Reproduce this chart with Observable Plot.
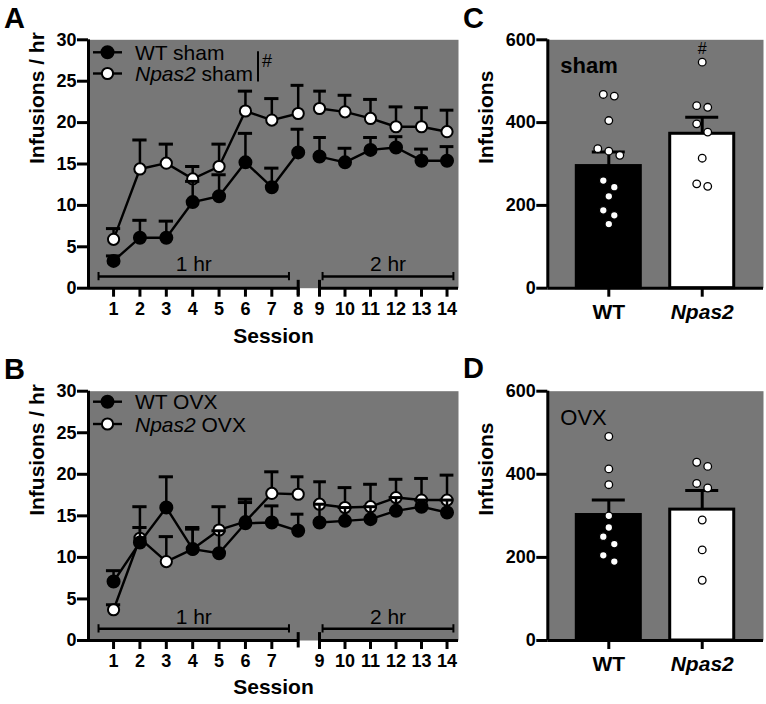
<!DOCTYPE html>
<html><head><meta charset="utf-8">
<script src="https://cdn.jsdelivr.net/npm/d3@7"></script>
<script src="https://cdn.jsdelivr.net/npm/@observablehq/plot@0.6"></script>
<style>
body{margin:0;background:#fff;}
#root{position:relative;width:766px;height:704px;overflow:hidden;background:#fff;}
.panel{position:absolute;}
.panel svg{max-width:none !important;}
</style></head><body><div id="root"></div>
<script>
const FONT = '"Liberation Sans", Arial, Helvetica, sans-serif';
const GRAY = "#777777";

// ---------- data ----------
const sessions = [1,2,3,4,5,6,7,8,9,10,11,12,13,14];
const tickLabelsA = [1,2,3,4,5,6,7,8,9,10,11,12,13,14];
const tickLabelsB = [1,2,3,4,5,6,7,9,10,11,12,13,14];
const yTicksRate = [0,5,10,15,20,25,30];
const yTicksTotal = [0,200,400,600];

const wtShamMean  = [3.3, 6.1, 6.1, 10.4, 11.1, 15.2, 12.2, 16.4, 15.9, 15.2, 16.7, 17.0, 15.4, 15.4];
const wtShamSem   = [0.6, 2.1, 2.0, 2.5, 2.6, 3.5, 2.3, 2.8, 2.3, 1.7, 1.5, 1.3, 1.4, 1.7];
const npShamMean  = [5.9, 14.4, 15.1, 13.2, 14.7, 21.4, 20.3, 21.1, 21.7, 21.3, 20.5, 19.5, 19.5, 18.9];
const npShamSem   = [1.3, 3.5, 2.3, 1.5, 2.7, 2.4, 2.6, 3.4, 2.1, 2.0, 2.3, 2.4, 2.3, 2.6];

const wtOvxMean   = [7.1, 11.8, 16.0, 11.0, 10.5, 14.1, 14.2, 13.2, 14.2, 14.4, 14.6, 15.6, 16.1, 15.4];
const wtOvxSem    = [1.3, 4.3, 3.7, 2.6, 2.7, 2.9, 2.0, 2.0, 2.2, 1.6, 1.5, 1.6, 0.8, 1.5];
const npOvxMean   = [3.7, 12.3, 9.5, 11.0, 13.3, 14.3, 17.7, 17.6, 16.4, 16.0, 16.1, 17.2, 16.9, 16.9];
const npOvxSem    = [0.6, 1.3, 3.0, 2.4, 2.8, 2.3, 2.6, 2.1, 2.7, 2.4, 2.7, 2.2, 2.6, 3.0];

const bracketLabels = ["1 hr", "2 hr"];
const bracketStart  = [0.43, 9.12];
const bracketEnd    = [7.65, 14.25];
const bracketLevel  = 1.4;
const axisSegStart  = [0.05, 9];
const axisSegEnd    = [8, 14.45];
const breakSessions = [8, 9];

const groups = ["WT", "Npas2"];
const shamBarMean = [295, 373];
const shamBarSem  = [34, 40];
const shamWT      = [468, 464, 405, 337, 331, 321, 260, 244, 222, 188, 176, 155];
const shamNpas2   = [546, 441, 437, 397, 377, 314, 252, 246];
const shamSig     = ["", "#"];
const ovxBarMean  = [302, 315];
const ovxBarSem   = [36, 46];
const ovxWT       = [491, 413, 375, 300, 272, 250, 232, 205, 190];
const ovxNpas2    = [429, 419, 378, 367, 290, 218, 145];
const ovxSig      = ["", ""];

// ---------- helpers ----------
const root = document.getElementById("root");
function place(node, left, top, w, h) {
  const div = document.createElement("div");
  div.className = "panel";
  div.style.left = left + "px"; div.style.top = top + "px";
  div.style.width = w + "px"; div.style.height = h + "px";
  div.appendChild(node);
  root.appendChild(div);
}

function linePanel({wtMean, wtSem, npMean, npSem, ticks, height, marginTop, marginBottom, sessionDy}) {
  const rows = (mean, sem) => sessions.map((s, i) => ({session: s, mean: mean[i], sem: sem[i], seg: s <= 8 ? "a" : "b"}));
  const wt = rows(wtMean, wtSem), np = rows(npMean, npSem);
  const segs = axisSegStart.map((a, i) => ({x1: a, x2: axisSegEnd[i]}));
  const brackets = bracketLabels.map((t, i) => ({label: t, x1: bracketStart[i], x2: bracketEnd[i], y: bracketLevel}));
  const bracketEnds = brackets.flatMap(b => [{x: b.x1, y: b.y}, {x: b.x2, y: b.y}]);
  const series = (data, fill) => [
    Plot.line(data, {x: "session", y: "mean", z: "seg", stroke: "black", strokeWidth: 2.4}),
    Plot.ruleX(data, {x: "session", y1: "mean", y2: d => d.mean + d.sem, stroke: "black", strokeWidth: 2.5}),
    Plot.ruleY(data, {y: d => d.mean + d.sem, x1: d => d.session - 0.27, x2: d => d.session + 0.27, stroke: "black", strokeWidth: 3}),
    Plot.dot(data, {x: "session", y: "mean", r: fill === "white" ? 5.6 : 6, fill, stroke: "black", strokeWidth: 2})
  ];
  const xd = [axisSegStart[0], axisSegEnd[0], axisSegStart[1], axisSegEnd[1]];
  return Plot.plot({
    width: 470, height, marginLeft: 88, marginRight: 12, marginTop, marginBottom,
    style: {fontFamily: FONT, background: "transparent", overflow: "visible"},
    x: {type: "linear", domain: xd, range: [88, 297.7, 319, 458]},
    y: {domain: [0, 30]},
    marks: [
      Plot.frame({fill: GRAY, stroke: "none"}),
      Plot.ruleY(brackets, {y: "y", x1: "x1", x2: "x2", stroke: "black", strokeWidth: 2.5}),
      Plot.ruleX(bracketEnds, {x: "x", y1: d => d.y - 0.5, y2: d => d.y + 0.5, stroke: "black", strokeWidth: 2}),
      Plot.text(brackets, {x: d => (d.x1 + d.x2) / 2, y: "y", text: "label", dy: -12, fontSize: 21, fill: "black"}),
      Plot.ruleX([xd[0]], {x: d => d, stroke: "black", strokeWidth: 3}),
      Plot.ruleY(segs, {y: () => 0, x1: "x1", x2: "x2", stroke: "black", strokeWidth: 3}),
      Plot.ruleX(breakSessions, {x: d => d, y1: () => 0.95, y2: () => -0.9, stroke: "black", strokeWidth: 3}),
      Plot.axisY({ticks: yTicksRate, tickSize: 11, tickPadding: 1, strokeWidth: 3, fontSize: 18, fontWeight: "bold", label: null, tickFormat: d => String(d)}),
      Plot.axisX({ticks, tickSize: 9, tickPadding: 5, strokeWidth: 3, fontSize: 18, fontWeight: "bold", label: null, tickFormat: d => String(d)}),
      Plot.text(["Infusions / hr"], {frameAnchor: "left", text: d => d, dx: -51, rotate: -90, fontSize: 21, fontWeight: "bold"}),
      Plot.text(["Session"], {frameAnchor: "bottom", text: d => d, dy: sessionDy, fontSize: 21, fontWeight: "bold"}),
      ...series(np, "white"),
      ...series(wt, "black")
    ]
  });
}

function swarm(values, pxPerUnit, laneUnits) {
  const idx = values.map((v, i) => i).sort((a, b) => values[b] - values[a]);
  const off = new Array(values.length).fill(0);
  let g = [];
  const flush = () => { g.forEach((k, j) => off[k] = (j - (g.length - 1) / 2) * laneUnits); g = []; };
  for (const k of idx) {
    if (g.length && (values[g[0]] - values[k]) * pxPerUnit > 8.5) flush();
    g.push(k);
  }
  flush();
  return off;
}

function barPanel({means, sems, pts, sig, height, marginTop, marginBottom, tag, tagWeight}) {
  const pxPerUnit = (height - marginTop - marginBottom) / 600;
  const lane = 11 / 93.4;
  const bars = groups.map((g, i) => ({g, i, mean: means[i], sem: sems[i], sig: sig[i], max: d3.max(pts[i])}));
  const dots = pts.flatMap((vals, i) => { const off = swarm(vals, pxPerUnit, lane); return vals.map((v, k) => ({i, v, x: i + off[k]})); });
  const hw = 32 / 93.4, cw = 16.5 / 93.4;
  const xd = [-0.653, 1.656];
  const svg = Plot.plot({
    width: 326, height, marginLeft: 107.3, marginRight: 3, marginTop, marginBottom,
    style: {fontFamily: FONT, background: "transparent", overflow: "visible"},
    x: {type: "linear", domain: xd},
    y: {domain: [0, 600]},
    marks: [
      Plot.frame({fill: GRAY, stroke: "none"}),
      Plot.rectY(bars, {x1: d => d.i - hw, x2: d => d.i + hw, y1: () => 0, y2: "mean", fill: d => d.i === 0 ? "black" : "white", stroke: "black", strokeWidth: 3}),
      Plot.ruleX(bars, {x: "i", y1: "mean", y2: d => d.mean + d.sem, stroke: "black", strokeWidth: 3}),
      Plot.ruleY(bars, {y: d => d.mean + d.sem, x1: d => d.i - cw, x2: d => d.i + cw, stroke: "black", strokeWidth: 3}),
      Plot.dot(dots, {x: "x", y: "v", r: 3.8, fill: "white", stroke: "black", strokeWidth: 1.3}),
      Plot.text(bars, {x: "i", y: "max", text: "sig", dy: -13, fontSize: 16, fill: "black"}),
      Plot.ruleX([xd[0]], {x: d => d, stroke: "black", strokeWidth: 3}),
      Plot.ruleY([0], {y: d => d, stroke: "black", strokeWidth: 3}),
      Plot.axisY({ticks: yTicksTotal, tickSize: 11, tickPadding: 1, strokeWidth: 3, fontSize: 18, fontWeight: "bold", label: null, tickFormat: d => String(d)}),
      Plot.axisX({ticks: [0, 1], tickSize: 9, tickPadding: 7, strokeWidth: 3, fontSize: 21, fontWeight: "bold", label: null, tickFormat: i => groups[i]}),
      Plot.text(["Infusions"], {frameAnchor: "left", text: d => d, dx: -62, rotate: -90, fontSize: 21, fontWeight: "bold"}),
      Plot.text([tag], {frameAnchor: "top-left", text: d => d, dx: 12.5, dy: 18, textAnchor: "start", fontSize: 22, fontWeight: tagWeight})
    ]
  });
  svg.querySelectorAll("text").forEach(t => { if (t.textContent === "Npas2") t.setAttribute("font-style", "italic"); });
  return svg;
}

// ---------- panels ----------
place(linePanel({wtMean: wtShamMean, wtSem: wtShamSem, npMean: npShamMean, npSem: npShamSem, ticks: tickLabelsA,
  height: 360, marginTop: 39.3, marginBottom: 72.3, sessionDy: 55}), 0, 0, 470, 360);
place(linePanel({wtMean: wtOvxMean, wtSem: wtOvxSem, npMean: npOvxMean, npSem: npOvxSem, ticks: tickLabelsB,
  height: 352, marginTop: 38.7, marginBottom: 64, sessionDy: 53}), 0, 352, 470, 352);
place(barPanel({means: shamBarMean, sems: shamBarSem, pts: [shamWT, shamNpas2], sig: shamSig,
  height: 360, marginTop: 39.3, marginBottom: 72.3, tag: "sham", tagWeight: "bold"}), 440, 0, 326, 360);
place(barPanel({means: ovxBarMean, sems: ovxBarSem, pts: [ovxWT, ovxNpas2], sig: ovxSig,
  height: 352, marginTop: 38.7, marginBottom: 64, tag: "OVX", tagWeight: "normal"}), 440, 352, 326, 352);

// ---------- overlay: panel letters and legends ----------
const ov = d3.select(root).append("svg")
  .attr("width", 766).attr("height", 704)
  .style("position", "absolute").style("left", 0).style("top", 0).style("pointer-events", "none")
  .style("font-family", FONT);
[["A", 4, 28], ["B", 4, 379], ["C", 463, 28], ["D", 463, 378]].forEach(([t, x, y]) =>
  ov.append("text").attr("x", x).attr("y", y).attr("font-size", 29).attr("font-weight", "bold").text(t));

function legend(y1, y2, label, withSig) {
  const entries = [[y1, "black", "WT", label], [y2, "white", "Npas2", label]];
  entries.forEach(([y, fill, g, lab]) => {
    ov.append("line").attr("x1", 93).attr("x2", 122).attr("y1", y).attr("y2", y).attr("stroke", "black").attr("stroke-width", 2.4);
    ov.append("circle").attr("cx", 107.5).attr("cy", y).attr("r", fill === "white" ? 5.6 : 6).attr("fill", fill).attr("stroke", "black").attr("stroke-width", 2);
    const t = ov.append("text").attr("x", 135).attr("y", y).attr("dy", "0.36em").attr("font-size", 21);
    t.append("tspan").attr("font-style", g === "Npas2" ? "italic" : "normal").text(g);
    t.append("tspan").text(" " + lab);
  });
  if (withSig) {
    ov.append("line").attr("x1", 258).attr("x2", 258).attr("y1", y1 - 1).attr("y2", y2 + 8).attr("stroke", "black").attr("stroke-width", 2);
    ov.append("text").attr("x", 262).attr("y", y1 + 15).attr("font-size", 18).text("#");
  }
}
legend(52.3, 73.5, "sham", true);
legend(401.7, 424, "OVX", false);
</script></body></html>
